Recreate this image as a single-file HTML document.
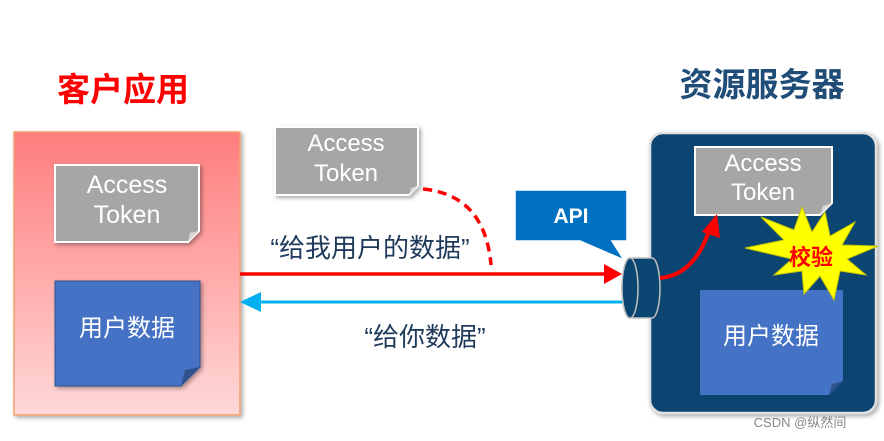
<!DOCTYPE html>
<html><head><meta charset="utf-8"><style>
body{margin:0;background:#fff;}
svg text{font-family:"Liberation Sans","Noto Sans CJK SC",sans-serif;}
</style></head><body>
<svg width="884" height="436" viewBox="0 0 884 436" xmlns="http://www.w3.org/2000/svg">
<defs>
<linearGradient id="pk" x1="0" y1="0" x2="0" y2="1">
<stop offset="0" stop-color="#ff7d7d"/><stop offset="1" stop-color="#ffd8d8"/>
</linearGradient>
<filter id="sh" x="-10%" y="-10%" width="130%" height="130%"><feDropShadow dx="2" dy="2" stdDeviation="2" flood-opacity="0.35"/></filter>
</defs>
<text x="123" y="101" font-size="33" font-weight="bold" fill="#ff0000" text-anchor="middle">客户应用</text>
<text x="762" y="96" font-size="33" font-weight="bold" fill="#1f4d78" text-anchor="middle">资源服务器</text>

<!-- left box -->
<rect x="14" y="132" width="226" height="283" fill="url(#pk)" stroke="#f4a070" stroke-width="1.5" filter="url(#sh)"/>
<path d="M55 165 H199 V231 L188 242 H55 Z" fill="#a6a6a6" stroke="#fff" stroke-width="2" filter="url(#sh)"/>
<path d="M188 242 L190 233 L199 231 Z" fill="#d9d9d9"/>
<text x="127" y="193" font-size="25" fill="#fff" text-anchor="middle">Access</text>
<text x="127" y="223" font-size="25" fill="#fff" text-anchor="middle">Token</text>
<path d="M55 281 H200 V367 L181 386 H55 Z" fill="#4472c4" stroke="#2f528f" stroke-width="1" filter="url(#sh)"/>
<path d="M181 386 L185 370 L200 367 Z" fill="#2f528f"/>
<text x="127" y="336" font-size="24" fill="#fff" text-anchor="middle">用户数据</text>

<!-- middle token -->
<path d="M275 127 H418 V186 L409 195 H275 Z" fill="#a6a6a6" stroke="#fff" stroke-width="2" filter="url(#sh)"/>
<path d="M409 195 L411 188 L418 186 Z" fill="#d9d9d9"/>
<text x="346" y="151" font-size="24" fill="#fff" text-anchor="middle">Access</text>
<text x="346" y="181" font-size="24" fill="#fff" text-anchor="middle">Token</text>
<path d="M423 189 Q485 195 491 265" fill="none" stroke="#ff0000" stroke-width="3.5" stroke-dasharray="9,6"/>

<!-- arrows -->
<line x1="240" y1="274" x2="605" y2="274" stroke="#ff0000" stroke-width="3.5"/>
<polygon points="604,264 622,274 604,284" fill="#ff0000"/>
<line x1="258" y1="302" x2="700" y2="302" stroke="#00b0f0" stroke-width="3"/>
<polygon points="240,302 261,292 261,312" fill="#00b0f0"/>
<text x="370" y="257" font-size="26" fill="#1f3a5a" text-anchor="middle">“给我用户的数据”</text>
<text x="425" y="346" font-size="26" fill="#1f3a5a" text-anchor="middle">“给你数据”</text>

<!-- right box -->
<rect x="650" y="133" width="226" height="280" rx="13" fill="#0b4572" stroke="#e0e0e0" stroke-width="2.5" filter="url(#sh)"/>
<path d="M695 147 H832 V203 L820 215 H695 Z" fill="#a6a6a6" stroke="#fff" stroke-width="2"/>
<path d="M820 215 L823 206 L832 203 Z" fill="#d9d9d9"/>
<text x="763" y="171" font-size="24" fill="#fff" text-anchor="middle">Access</text>
<text x="763" y="200" font-size="24" fill="#fff" text-anchor="middle">Token</text>
<path d="M700 290 H843 V381 L829 395 H700 Z" fill="#4472c4"/>
<path d="M829 395 L832 384 L843 381 Z" fill="#2f528f"/>
<text x="771" y="344" font-size="24" fill="#fff" text-anchor="middle">用户数据</text>
<polygon points="825,212 830,236 855,222 842,245 878,246 847,259 866,275 840,271 834,300 820,276 804,294 802,271 774,275 792,259 745,248 784,240 761,217 794,230 802,207 812,232" fill="#ffff00" stroke="#c8c800" stroke-width="1"/>
<text x="811" y="265" font-size="22" font-weight="bold" fill="#ff0000" text-anchor="middle">校验</text>

<!-- API callout -->
<path d="M515 190 H627 V241 H612 L624 260 L580 241 H515 Z" fill="#0070c0" stroke="#fff" stroke-width="1.5"/>
<text x="571" y="223" font-size="21" font-weight="bold" fill="#fff" text-anchor="middle">API</text>
<!-- cylinder -->
<path d="M630 258 H652 A8 30 0 0 1 652 318 H630 A8 30 0 0 1 630 258 Z" fill="#0b4572" stroke="#c0c0c0" stroke-width="1.5"/>
<ellipse cx="630" cy="288" rx="8" ry="30" fill="#0b4572" stroke="#c0c0c0" stroke-width="1.5"/>
<path d="M660 278 Q695 275 710 228" fill="none" stroke="#ff0000" stroke-width="4"/>
<polygon points="702,232 717,214 720,238" fill="#ff0000"/>
<text x="800" y="427" font-size="13" fill="#888" text-anchor="middle">CSDN @纵然间</text>
</svg>
</body></html>
